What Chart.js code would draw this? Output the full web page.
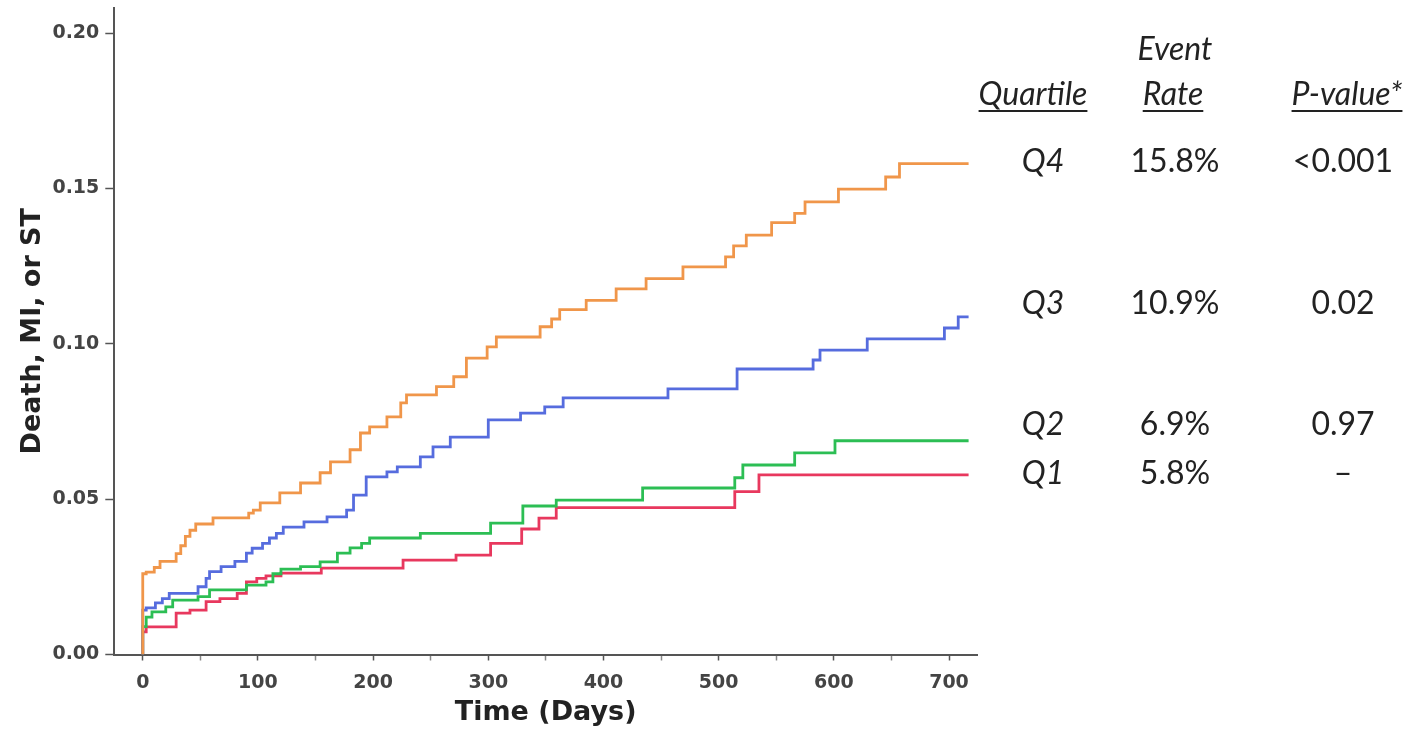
<!DOCTYPE html>
<html>
<head>
<meta charset="utf-8">
<script src="https://cdn.jsdelivr.net/npm/chart.js@4.4.1/dist/chart.umd.min.js"></script>
<style>
  body { margin: 0; background: #fff; }
  #wrap { position: relative; width: 1414px; height: 730px; }
  .lbl {
    position: absolute;
    transform: translate(-50%, -50%);
    font-family: "Lato", "Open Sans", sans-serif;
    font-size: 32px;
    line-height: 1;
    color: #222;
    white-space: nowrap;
  }
  .it { font-style: italic; }
  .ul { text-decoration: underline; text-decoration-thickness: 2px; text-underline-offset: 5px; }
</style>
</head>
<body>
<div id="wrap">
  <canvas id="grafico"></canvas>
</div>
<script>
// Kaplan-Meier style curves: day of each step and cumulative rate after the step
const q4Dias = [0, 0, 3, 10, 15, 29, 33, 37, 41, 46, 61, 92, 96, 102, 119, 137, 154, 163, 180, 189, 197, 212, 224, 229, 255, 270, 281, 299, 307, 345, 355, 362, 385, 411, 437, 469, 506, 513, 524, 546, 566, 575, 604, 645, 657, 717];
const q4Tasa = [0, 0.026, 0.0265, 0.028, 0.030, 0.0325, 0.035, 0.038, 0.040, 0.042, 0.044, 0.0455, 0.0465, 0.0488, 0.052, 0.0552, 0.0585, 0.062, 0.0659, 0.0713, 0.0733, 0.0765, 0.081, 0.0836, 0.0862, 0.0894, 0.0954, 0.099, 0.1022, 0.1055, 0.108, 0.111, 0.114, 0.1177, 0.121, 0.1248, 0.128, 0.1315, 0.135, 0.139, 0.142, 0.1457, 0.1498, 0.1537, 0.158, 0.158];

const q3Dias = [0, 0, 3, 11, 17, 23, 48, 55, 58, 68, 80, 90, 95, 104, 110, 116, 122, 140, 160, 177, 183, 194, 212, 221, 241, 252, 267, 300, 328, 349, 365, 456, 516, 582, 588, 629, 696, 708, 717];
const q3Tasa = [0, 0.0143, 0.015, 0.0166, 0.018, 0.0197, 0.0218, 0.0245, 0.0267, 0.0283, 0.030, 0.0326, 0.0342, 0.0358, 0.0375, 0.039, 0.041, 0.0427, 0.0443, 0.0465, 0.0513, 0.0572, 0.0588, 0.0604, 0.0636, 0.0668, 0.070, 0.0755, 0.0777, 0.0797, 0.0826, 0.0855, 0.0919, 0.0948, 0.098, 0.1016, 0.1051, 0.1087, 0.1087];

const q2Dias = [0, 0, 3, 8, 20, 26, 48, 58, 90, 107, 113, 120, 137, 154, 169, 180, 190, 197, 241, 302, 330, 359, 434, 514, 521, 566, 601, 717];
const q2Tasa = [0, 0.009, 0.012, 0.0137, 0.0153, 0.0175, 0.0186, 0.0208, 0.0223, 0.0234, 0.026, 0.0275, 0.0283, 0.0298, 0.0326, 0.0343, 0.0358, 0.0375, 0.039, 0.0423, 0.0478, 0.0497, 0.0536, 0.0569, 0.061, 0.0649, 0.0688, 0.0688];

const q1Dias = [0, 0, 3, 29, 41, 55, 67, 82, 90, 99, 107, 120, 155, 226, 272, 302, 329, 344, 359, 514, 535, 717];
const q1Tasa = [0, 0.0073, 0.0089, 0.0133, 0.0143, 0.017, 0.018, 0.0197, 0.0234, 0.0245, 0.0253, 0.0262, 0.0278, 0.0304, 0.032, 0.0358, 0.0404, 0.0439, 0.0473, 0.0524, 0.0578, 0.0578];

// axis ticks
const ticksX = [0, 50, 100, 150, 200, 250, 300, 350, 400, 450, 500, 550, 600, 650, 700];
const ticksY = [0, 0.05, 0.10, 0.15, 0.20];

// table on the right
const cuartiles = ["Q4", "Q3", "Q2", "Q1"];
const tasasEvento = ["15.8%", "10.9%", "6.9%", "5.8%"];
const valoresP = ["<0.001", "0.02", "0.97", "–"];
const filasY = [160, 302, 423, 472];

const colores = ["rgb(240,150,74)", "rgb(86,108,222)", "rgb(44,190,84)", "rgb(232,56,94)"];

function puntos(dias, tasas) {
  return dias.map((d, i) => ({ x: d, y: tasas[i] }));
}

function etiqueta(texto, x, y, clases) {
  const div = document.createElement("div");
  div.className = "lbl " + (clases || "");
  div.style.left = x + "px";
  div.style.top = y + "px";
  div.textContent = texto;
  document.getElementById("wrap").appendChild(div);
}

const series = [
  puntos(q4Dias, q4Tasa),
  puntos(q3Dias, q3Tasa),
  puntos(q2Dias, q2Tasa),
  puntos(q1Dias, q1Tasa),
];

const fuenteEje = { family: "DejaVu Sans", size: 19, weight: "bold" };
const fuenteTitulo = { family: "DejaVu Sans", size: 27, weight: "bold" };

new Chart(document.getElementById("grafico").getContext("2d"), {
  type: "line",
  data: {
    datasets: series.map((s, i) => ({
      label: cuartiles[i],
      data: s,
      borderColor: colores[i],
      borderWidth: 2.8,
      pointRadius: 0,
      stepped: "before",
      fill: false,
    })),
  },
  options: {
    responsive: true,
    maintainAspectRatio: false,
    animation: false,
    layout: { padding: { left: 0, right: 437, top: 8, bottom: 0 } },
    plugins: {
      legend: { display: false },
      tooltip: { enabled: false },
    },
    scales: {
      x: {
        type: "linear",
        min: -24.7,
        max: 724.3,
        afterBuildTicks: (scale) => { scale.ticks = ticksX.map((v) => ({ value: v })); },
        afterFit: (scale) => {
          scale.height = 75.5;
          scale.paddingLeft = 0;
          scale.paddingRight = 0;
        },
        border: { display: true, color: "#555", width: 2 },
        grid: {
          display: true,
          drawOnChartArea: false,
          drawTicks: true,
          tickLength: 6,
          tickWidth: 1.5,
          tickColor: (ctx) => (ctx.tick && ctx.tick.value % 100 === 0 ? "#555" : "#888"),
        },
        ticks: {
          autoSkip: false,
          maxRotation: 0,
          padding: 11,
          color: "#444",
          font: fuenteEje,
          callback: (v) => (v % 100 === 0 ? String(v) : ""),
        },
        title: {
          display: true,
          text: "Time (Days)",
          color: "#222",
          font: fuenteTitulo,
          padding: { top: 0, bottom: 1 },
        },
      },
      y: {
        min: 0,
        max: 0.2081,
        afterBuildTicks: (scale) => { scale.ticks = ticksY.map((v) => ({ value: v })); },
        afterFit: (scale) => {
          scale.width = 114.3;
          scale.paddingTop = 0;
          scale.paddingBottom = 0;
        },
        border: { display: true, color: "#555", width: 2 },
        grid: {
          display: true,
          drawOnChartArea: false,
          drawTicks: true,
          tickLength: 9,
          tickWidth: 1.5,
          tickColor: "#555",
        },
        ticks: {
          autoSkip: false,
          padding: 6,
          color: "#444",
          font: fuenteEje,
          callback: (v) => Number(v).toFixed(2),
        },
        title: {
          display: true,
          text: "Death, MI, or ST",
          color: "#222",
          font: fuenteTitulo,
          padding: { top: 17, bottom: 0 },
        },
      },
    },
  },
});

// headers
etiqueta("Event", 1175, 48, "it");
etiqueta("Quartile", 1033, 93, "it ul");
etiqueta("Rate", 1173, 93, "it ul");
etiqueta("P-value*", 1347, 93, "it ul");

cuartiles.forEach((q, i) => {
  etiqueta(q, 1043, filasY[i], "it");
  etiqueta(tasasEvento[i], 1175, filasY[i]);
  etiqueta(valoresP[i], 1343, filasY[i]);
});
</script>
</body>
</html>
